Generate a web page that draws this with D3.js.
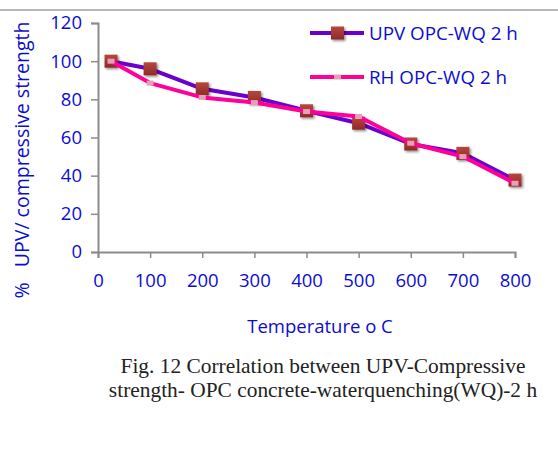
<!DOCTYPE html>
<html lang="en">
<head>
<meta charset="UTF-8">
<title>UPV / compressive strength</title>
<script src="https://cdn.jsdelivr.net/npm/d3@7"></script>
<style>
  body { margin: 0; background: #fff; overflow: hidden; }
</style>
</head>
<body>
<script>
    // temperature (deg C) and % retained values
    const temps = [25, 100, 200, 300, 400, 500, 600, 700, 800];
    const upv = [100, 96, 85.5, 81, 74, 67.5, 56.6, 51.7, 37.7];
    const rh = [100, 88.5, 81, 78.3, 73.6, 71, 57, 50, 36];
    const xTicks = [0, 100, 200, 300, 400, 500, 600, 700, 800];
    const yTicks = [0, 20, 40, 60, 80, 100, 120];
    const seriesNames = ["UPV OPC-WQ 2 h", "RH OPC-WQ 2 h"];

    const W = 558, H = 450;
    const blue = "#0c0cd0";
    const axisCol = "#8c8c8c";
    const font = "'Open Sans', Lato, sans-serif";

    const svg = d3.select("body").append("svg")
        .attr("width", W).attr("height", H);

    const defs = svg.append("defs");
    const sh = defs.append("filter").attr("id", "shadow")
        .attr("x", "-50%").attr("y", "-50%").attr("width", "200%").attr("height", "200%");
    sh.append("feDropShadow").attr("dx", 1.5).attr("dy", 1.5).attr("stdDeviation", 1.2)
        .attr("flood-color", "#000").attr("flood-opacity", 0.45);
    const grad = defs.append("linearGradient").attr("id", "brown")
        .attr("x1", 0).attr("y1", 0).attr("x2", 0).attr("y2", 1);
    grad.append("stop").attr("offset", "0%").attr("stop-color", "#b8463f");
    grad.append("stop").attr("offset", "100%").attr("stop-color", "#8e2a26");

    // top rule of the page
    svg.append("line").attr("x1", 0).attr("x2", W).attr("y1", 10).attr("y2", 10)
        .attr("stroke", "#a0a0a0").attr("stroke-width", 1.5);

    const x = d3.scaleLinear().domain([0, 800]).range([98, 515]);
    const y = d3.scaleLinear().domain([0, 120]).range([252, 23]);

    // axes
    const xAxis = svg.append("g").attr("transform", `translate(0,${y(0)})`)
        .call(d3.axisBottom(x).tickValues(xTicks).tickSize(6).tickPadding(16));
    const yAxis = svg.append("g").attr("transform", `translate(${x(0)},0)`)
        .call(d3.axisLeft(y).tickValues(yTicks).tickSize(7).tickPadding(9));
    [xAxis, yAxis].forEach(g => {
        g.select(".domain").attr("stroke", axisCol).attr("stroke-width", 2);
        g.selectAll(".tick line").attr("stroke", axisCol).attr("stroke-width", 1.5);
        g.selectAll(".tick text").attr("fill", blue)
            .style("font-family", font).style("font-size", "18.5px");
    });

    const line = d3.line().x(d => x(d[0])).y(d => y(d[1]));
    const upvPts = temps.map((t, i) => [t, upv[i]]);
    const rhPts = temps.map((t, i) => [t, rh[i]]);

    svg.append("path").datum(upvPts).attr("d", line)
        .attr("fill", "none").attr("stroke", "#6a00cc").attr("stroke-width", 4)
        .attr("stroke-linejoin", "round");
    svg.selectAll(".upvMark").data(upvPts).enter().append("rect")
        .attr("x", d => x(d[0]) - 6.5).attr("y", d => y(d[1]) - 6.5)
        .attr("width", 13).attr("height", 13)
        .attr("fill", "url(#brown)").attr("filter", "url(#shadow)");

    svg.append("path").datum(rhPts).attr("d", line)
        .attr("fill", "none").attr("stroke", "#ff0099").attr("stroke-width", 4)
        .attr("stroke-linejoin", "round");
    svg.selectAll(".rhMark").data(rhPts).enter().append("rect")
        .attr("x", d => x(d[0]) - 3.5).attr("y", d => y(d[1]) - 2.5)
        .attr("width", 7).attr("height", 5)
        .attr("fill", "#e8a0b4");

    // legend
    const leg = svg.append("g");
    seriesNames.forEach((name, i) => {
        const ly = 33 + i * 44;
        leg.append("line").attr("x1", 310).attr("x2", 364).attr("y1", ly).attr("y2", ly)
            .attr("stroke", i === 0 ? "#6a00cc" : "#ff0099").attr("stroke-width", 4);
        if (i === 0) {
            leg.append("rect").attr("x", 331).attr("y", ly - 6.5).attr("width", 13).attr("height", 13)
                .attr("fill", "url(#brown)").attr("filter", "url(#shadow)");
        } else {
            leg.append("rect").attr("x", 334).attr("y", ly - 2.5).attr("width", 7).attr("height", 5)
                .attr("fill", "#e8a0b4");
        }
        leg.append("text").attr("x", 369).attr("y", ly).attr("dy", "0.35em")
            .attr("fill", blue).style("font-family", font).style("font-size", "18.8px")
            .text(name);
    });

    // axis titles
    svg.append("text").attr("x", 320).attr("y", 327).attr("text-anchor", "middle")
        .attr("dy", "0.35em").attr("fill", blue)
        .style("font-family", font).style("font-size", "18.5px")
        .text("Temperature o C");
    svg.append("text").attr("transform", "translate(22,160) rotate(-90)")
        .attr("text-anchor", "middle").attr("dy", "0.35em").attr("fill", blue)
        .attr("xml:space", "preserve")
        .style("white-space", "pre")
        .style("font-family", font).style("font-size", "19.5px")
        .text("%   UPV/ compressive strength");

    // caption
    const cap = svg.append("text").attr("text-anchor", "middle").attr("fill", "#222")
        .style("font-family", "'Liberation Serif', 'Times New Roman', serif").style("font-size", "21.4px");
    cap.append("tspan").attr("x", 323).attr("y", 373).text("Fig. 12 Correlation between UPV-Compressive");
    cap.append("tspan").attr("x", 323).attr("y", 397).text("strength- OPC concrete-waterquenching(WQ)-2 h");
</script>
</body>
</html>
